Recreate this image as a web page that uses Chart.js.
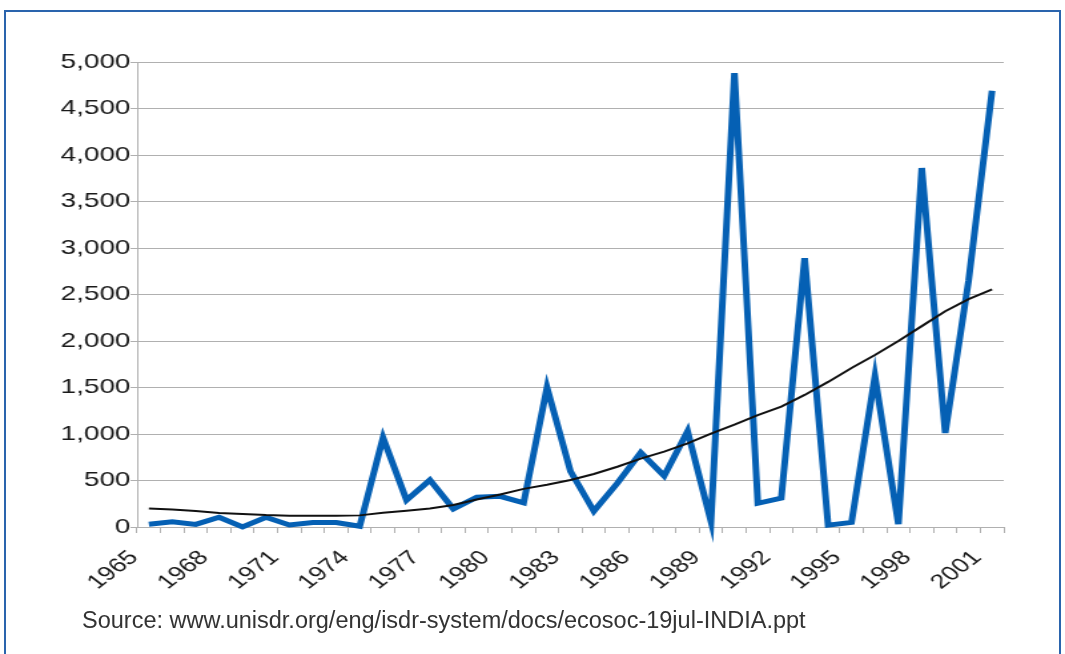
<!DOCTYPE html>
<html><head><meta charset="utf-8">
<script src="https://cdn.jsdelivr.net/npm/chart.js@4"></script>
<style>
html,body{margin:0;padding:0;background:#fff;overflow:hidden;width:1065px;height:654px;}
#frame{position:absolute;left:4px;top:10px;width:1053px;height:700px;border:2px solid #2a64ad;border-bottom:none;box-sizing:content-box;}
#wrap{position:absolute;left:0;top:0;width:800px;height:654px;transform:scaleX(1.33125);transform-origin:0 0;}
#src{position:absolute;left:82px;top:609px;font:23.5px/23px "Liberation Sans",Arial,sans-serif;color:#333;white-space:nowrap;}
</style></head><body>
<div id="frame"></div>
<div id="wrap"><canvas id="c" width="800" height="654" style="width:800px;height:654px"></canvas></div>
<div id="src">Source: www.unisdr.org/eng/isdr-system/docs/ecosoc-19jul-INDIA.ppt</div>
<script>
const years = ["1965","1966","1967","1968","1969","1970","1971","1972","1973","1974",
  "1975","1976","1977","1978","1979","1980","1981","1982","1983","1984",
  "1985","1986","1987","1988","1989","1990","1991","1992","1993","1994",
  "1995","1996","1997","1998","1999","2000","2001"];
const losses = [30,55,28,105,0,105,22,48,48,8,
  960,290,505,195,320,330,260,1500,600,170,
  470,800,550,1030,60,4880,255,310,2890,20,
  50,1620,30,3860,1010,2650,4690];
const trend = [200,188,172,150,140,128,122,122,122,125,
  152,175,200,236,295,350,410,455,505,570,
  648,735,810,900,1005,1100,1204,1294,1420,1560,
  1710,1850,2000,2160,2320,2450,2556];
const yTicks = [0,500,1000,1500,2000,2500,3000,3500,4000,4500,5000];

const gridGray = '#b0b0b0';
new Chart(document.getElementById('c'), {
  type: 'line',
  data: {
    labels: years,
    datasets: [
      {data: trend, borderColor: '#111', borderWidth: 2, pointRadius: 0, tension: 0, order: 0, fill: false},
      {data: losses, borderColor: '#0560b4', borderWidth: 5, pointRadius: 0, tension: 0, order: 1, fill: false, clip: false, borderJoinStyle: 'miter'}
    ]
  },
  options: {
    responsive: false,
    animation: false,
    events: [],
    layout: {padding: {left: 0, right: 46, top: 62, bottom: 0}},
    plugins: {legend: {display: false}, tooltip: {enabled: false}},
    scales: {
      x: {
        type: 'category',
        offset: true,
        grid: {offset: true, drawOnChartArea: false, tickLength: 6, color: gridGray},
        border: {color: gridGray},
        ticks: {
          autoSkip: false, maxRotation: 45, minRotation: 45, padding: 13, labelOffset: -11,
          color: '#1a1a1a', font: {family: 'Liberation Sans', size: 20},
          callback: (v, i) => (i % 3 === 0 ? years[i] : '')
        },
        afterFit: s => { s.height = 127; }
      },
      y: {
        min: yTicks[0], max: yTicks[yTicks.length - 1],
        afterBuildTicks: s => { s.ticks = yTicks.map(v => ({value: v})); },
        grid: {color: gridGray, tickLength: 5},
        border: {color: gridGray},
        ticks: {
          padding: 0, color: '#1a1a1a', font: {family: 'Liberation Sans', size: 21},
          callback: v => Number(v).toLocaleString('en-US')
        },
        afterFit: s => { s.width = 103; }
      }
    }
  }
});
</script>
</body></html>
